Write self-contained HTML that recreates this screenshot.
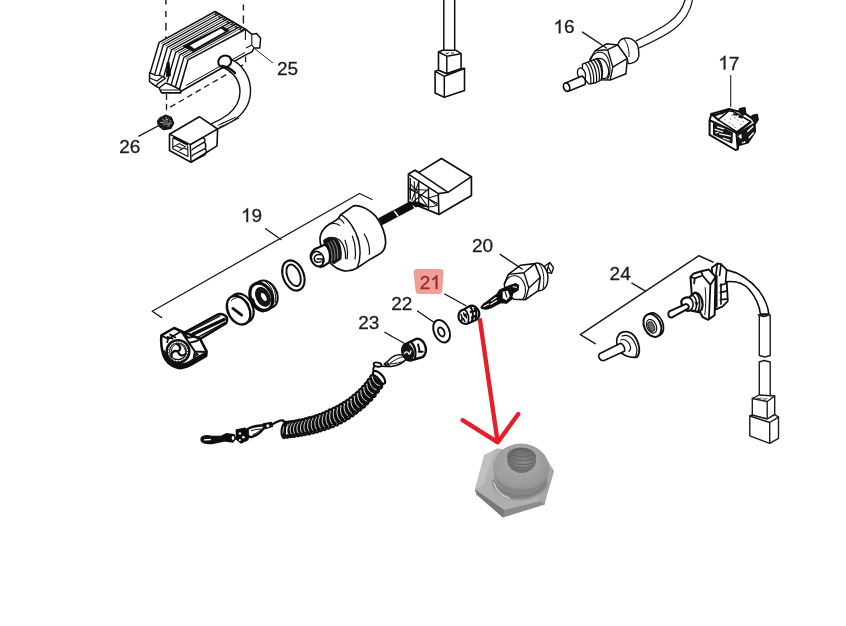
<!DOCTYPE html>
<html>
<head>
<meta charset="utf-8">
<title>Parts diagram</title>
<style>
html,body{margin:0;padding:0;background:#fff;}
body{width:846px;height:626px;overflow:hidden;font-family:"Liberation Sans",sans-serif;}
svg{display:block;}
.l{fill:none;stroke:#1a1a1a;stroke-width:1.4;stroke-linecap:round;stroke-linejoin:round;}
.w{fill:#fff;stroke:#1a1a1a;stroke-width:1.4;stroke-linecap:round;stroke-linejoin:round;}
.t{fill:none;stroke:#1a1a1a;stroke-width:0.8;stroke-linecap:round;stroke-linejoin:round;}
.h{fill:none;stroke:#111;stroke-width:2;stroke-linecap:round;stroke-linejoin:round;}
.k{fill:#111;stroke:#111;stroke-width:1;stroke-linejoin:round;}
.d{fill:none;stroke:#1a1a1a;stroke-width:1.1;stroke-dasharray:5 4;}
text{font-family:"Liberation Sans",sans-serif;font-size:19px;fill:#1c1c1c;stroke:#1c1c1c;stroke-width:0.3;}
</style>
</head>
<body>
<svg width="846" height="626" viewBox="0 0 846 626">
<defs>
<filter id="soft" x="-5%" y="-5%" width="110%" height="110%"><feGaussianBlur stdDeviation="0.35"/></filter>
<filter id="blur1" x="-10%" y="-10%" width="120%" height="120%"><feGaussianBlur stdDeviation="1"/></filter>
</defs>
<rect x="0" y="0" width="846" height="626" fill="#ffffff"/>
<g id="drawing" filter="url(#soft)">

<!-- ITEM25 -->
<path d="M165.900,0 V4.600 M165.900,11 V17 M165.900,22.800 V30.600 M165.900,36.200 V41" fill="none" stroke="#1a1a1a" stroke-width="1.400"/>
<path d="M243.400,4.600 V10.400 M243.400,15.600 V23.400" fill="none" stroke="#1a1a1a" stroke-width="1.400"/>
<path class="d" d="M166.500,94 V109.300 L245.600,63.400 V54" style="stroke-dasharray:5.900 3.900;stroke-width:1.300"/>
<!-- body silhouette -->
<path d="M150.400,71.900 L159.200,42.300 L215.100,11.500 L245.500,29.200 L251.800,34.300 L256.600,33.500 L260.600,38.300 L259.800,47.900 L254.200,47.900 L251.800,51.900 L245.400,55.200 L216.700,71 L181.500,91 L180.700,92.700 L161.600,92.700 L159.200,87.900 L156,86.300 L149.600,81.500 L149.600,72.700 Z" fill="#fff" stroke="#111" stroke-width="1.500" stroke-linejoin="round"/>
<path d="M161.3,43.6 L214.7,14.2" fill="none" stroke="#222" stroke-width="0.800" stroke-linejoin="round"/>
<path d="M154.7,74.6 L163.3,44.8 L219.2,14.0" fill="none" stroke="#111" stroke-width="1.400" stroke-linejoin="round"/>
<path d="M165.4,46.1 L218.8,16.7" fill="none" stroke="#222" stroke-width="0.800" stroke-linejoin="round"/>
<path d="M158.8,77.1 L167.4,47.3 L223.3,16.5" fill="none" stroke="#111" stroke-width="1.400" stroke-linejoin="round"/>
<path d="M169.5,48.6 L222.9,19.2" fill="none" stroke="#222" stroke-width="0.800" stroke-linejoin="round"/>
<path d="M162.9,79.6 L171.5,49.8 L227.4,19.0" fill="none" stroke="#111" stroke-width="1.400" stroke-linejoin="round"/>
<path d="M173.6,51.1 L227.0,21.7" fill="none" stroke="#222" stroke-width="0.800" stroke-linejoin="round"/>
<path d="M167.1,82.2 L175.7,52.4 L231.6,21.6" fill="none" stroke="#111" stroke-width="1.400" stroke-linejoin="round"/>
<path d="M177.7,53.6 L231.1,24.2" fill="none" stroke="#222" stroke-width="0.800" stroke-linejoin="round"/>
<path d="M171.2,84.7 L179.8,54.9 L235.7,24.1" fill="none" stroke="#111" stroke-width="1.400" stroke-linejoin="round"/>
<path d="M181.8,56.1 L235.2,26.7" fill="none" stroke="#222" stroke-width="0.800" stroke-linejoin="round"/>
<path d="M175.3,87.2 L183.9,57.4 L239.8,26.6" fill="none" stroke="#111" stroke-width="1.400" stroke-linejoin="round"/>
<path d="M185.9,58.6 L239.3,29.2" fill="none" stroke="#222" stroke-width="0.800" stroke-linejoin="round"/>
<path d="M179.4,89.7 L188.0,59.9 L245.5,29.2" fill="none" stroke="#111" stroke-width="1.600" stroke-linejoin="round"/>
<path d="M215.1,11.5 L217.2,12.8 L214.7,14.2 L216.7,15.4 L219.2,14.0 L221.3,15.3 L218.8,16.7 L220.8,17.9 L223.3,16.5 L225.4,17.8 L222.9,19.2 L224.9,20.4 L227.4,19.0 L229.5,20.3 L227.0,21.7 L229.1,23.0 L231.6,21.6 L233.6,22.8 L231.1,24.2 L233.2,25.5 L235.7,24.1 L237.7,25.3 L235.2,26.7 L237.3,28.0 L239.8,26.6 L241.8,27.8 L239.3,29.2 L241.4,30.5 L243.9,29.1" fill="none" stroke="#111" stroke-width="1.100" stroke-linejoin="round"/>
<!-- dark wedge -->
<path d="M166.500,63 L169.500,61.500 L171,76 L166,77 Z" fill="#111"/>
<!-- feet -->
<path d="M149.600,72.700 L155.200,75.100 L160.500,75.500 L165.600,78.300 L157.600,83.900 L156,86.300 L149.600,81.500 Z" fill="#fff" stroke="#111" stroke-width="1.400" stroke-linejoin="round"/>
<path d="M149.600,78 L157,81 L162,77" fill="none" stroke="#111" stroke-width="1.100"/>
<path d="M159.200,87.900 L165.600,83 L171,85 L180,89.500 L180.700,92.700 L161.600,92.700 Z" fill="#fff" stroke="#111" stroke-width="1.400" stroke-linejoin="round"/>
<path d="M161,90 L179.500,90" fill="none" stroke="#111" stroke-width="1"/>
<!-- plate -->
<path d="M183.200,46.200 L222.200,26.700 L229.300,30.600 L192.900,51.400 Z" fill="#111" stroke="#111" stroke-width="1"/>
<path d="M189.800,45.600 L221.200,28.600 L225,31.400 L194.600,48.700 Z" fill="#fff"/>
<!-- front face bottom inner line -->
<path d="M186,85.500 L216,68.500 L245,52.500" fill="none" stroke="#111" stroke-width="1"/>
<!-- right end details -->
<path d="M245.500,29.200 L245.400,40 M251.800,34.300 L251.800,45 L254.200,47.900 M251.800,45 L246,48" fill="none" stroke="#111" stroke-width="1.100"/>
<!-- cable -->
<path d="M230,58 C243,64 251,78 250.500,92 C250,104 244,114 232,121.500 C227,124.500 222,127 217.600,129 L211.100,123.800 C216,122 222,119 228,114.500 C236,108 240,100 240,92 C240,80 233,72 222.500,67.500 Z" fill="#fff" stroke="none"/>
<ellipse cx="224.800" cy="61.500" rx="6.700" ry="5.800" transform="rotate(-20 224.800 61.500)" fill="#fff" stroke="#111" stroke-width="2.100"/>
<path d="M222.500,67 C233,72 240,80 240,92 C240,100 236,108 228,114.500 C222,119 216,122 211.100,123.800" fill="none" stroke="#111" stroke-width="1.400"/>
<path d="M222.500,65.800 C227,66.800 231.500,69 235,73" fill="none" stroke="#111" stroke-width="2.400" stroke-linecap="round"/>
<path d="M229.500,58.500 C243,64 251,78 250.500,92 C250,104 244,114 232,121.500 C227,124.500 222,127 217.600,129" fill="none" stroke="#111" stroke-width="1.400"/>
<path d="M217.6,125.4 C224.1,122.5 230.6,119.9 235.8,117.0 M218.9,127.3 C226.7,124.1 233.2,121.2 239.1,118.0 M220.9,124.1 L233.2,118.3" fill="none" stroke="#111" stroke-width="0.900"/>
<!-- leader 25 -->
<path d="M254.500,48.500 L273,63" fill="none" stroke="#333" stroke-width="1"/>
<!-- ITEM26 -->
<path d="M159.8,118.0 L165.6,115.0 L171.5,117.6 L173.7,123.2 L170.8,128.4 L163.7,129.7 L158.5,125.8 L157.5,121.2 Z" fill="#1e1e1e" stroke="#111" stroke-width="1.200" stroke-linejoin="round"/>
<path d="M162.4,119.3 l3,2 l3,-2.500 M163.0,125.1 l3.500,-1.500 l3,2.500 M166.3,117.3 v3.500 M160.4,122.5 h3 M168.2,123.2 h3.500 M165.6,121.2 l2,2 M167.6,126.4 l2,-2 M169.5,119.9 l1.500,1.500" fill="none" stroke="#b5b5b5" stroke-width="1"/>
<ellipse cx="165.6" cy="122.5" rx="2.600" ry="3" fill="#555"/>
<path d="M138.300,136.300 L158,126" fill="none" stroke="#111" stroke-width="1.300"/>
<!-- connector for 25 -->
<path d="M169.5,134.2 L199.4,116.7 L217.6,129.0 L217.0,145.9 L191.0,162.2 L169.5,150.5 Z" fill="#fff" stroke="#111" stroke-width="1.600" stroke-linejoin="round"/>
<path d="M169.5,134.2 L190.3,144.6 L191.0,162.2 M190.3,144.6 L217.6,129.0" fill="none" stroke="#111" stroke-width="1.500" stroke-linejoin="round"/>
<path d="M172.8,137.9 L172.8,148.8 L188.0,156.6 L187.7,145.7" fill="none" stroke="#111" stroke-width="1.100" stroke-linejoin="round"/>
<path d="M173.1,137.1 L188.0,144.6" fill="none" stroke="#111" stroke-width="2.600"/>
<path d="M172.8,147.2 L179.3,143.6 L185.8,147.0 M179.3,150.5 L184.1,147.9 L187.7,149.8 M176.0,145.7 L181.9,148.5" fill="none" stroke="#111" stroke-width="1.100"/>
<path d="M190.3,144.6 L202.7,137.5 C204.6,138.4 205.3,140.1 204.6,141.8 L192.9,148.8 M204.6,141.8 C205.9,144.0 206.2,146.2 205.3,148.3 L192.9,155.0 M205.3,148.3 C206.6,150.5 206.2,153.1 204.9,154.8 L191.4,161.9" fill="none" stroke="#111" stroke-width="1.400" stroke-linejoin="round"/>
<path d="M192.9,148.8 L191.6,150.5 M192.9,155.0 L191.6,156.6" fill="none" stroke="#111" stroke-width="1.200"/>
<!-- ITEMTOPCONN -->
<path d="M443.800,0 V51 M454.700,0 V51" fill="none" stroke="#111" stroke-width="1.500"/>
<path d="M438.500,52 L442.700,50.300 L456.100,50.300 L461.100,53.700 L461.100,68.800 L446.800,73.800 L438.500,70.500 Z" fill="#fff" stroke="#111" stroke-width="1.600" stroke-linejoin="round"/>
<path d="M438.500,52 L446.800,56.200 L461.100,53.700 M446.800,56.200 V73.800" fill="none" stroke="#111" stroke-width="1.500" stroke-linejoin="round"/>
<path d="M445.500,52.700 l1.500,0.900 l1.800,-0.900 M451,52.500 l1.500,0.900 l1.800,-0.900" fill="none" stroke="#111" stroke-width="0.900"/>
<path d="M435.100,71.300 L438.500,70.200 L446.800,73.800 L461.100,68.800 L464.500,68.300 L464.500,90.600 L444.300,97.300 L435.100,93.100 Z" fill="#fff" stroke="#111" stroke-width="1.600" stroke-linejoin="round"/>
<path d="M435.100,71.300 L444.300,76.300 L464.500,68.500 M444.300,76.300 V97.300" fill="none" stroke="#111" stroke-width="1.500" stroke-linejoin="round"/>
<!-- ITEM16 -->
<!-- cable -->
<path class="l" d="M636.200,40.800 C660,29 680,20 685,0" style="stroke-width:1.300"/>
<path class="l" d="M639.400,47.800 C665,36 688,26 692.500,0" style="stroke-width:1.300"/>
<!-- collar -->
<path d="M617.700,44.900 C619,41 621,39 623.400,38.500 C626,37.500 629,38 631.700,39.200 C636,41.500 638,45 638.300,48.500 C639,52 639,54.500 638.800,56.400 C638,59.500 636,61.500 634.300,62.200 C632,63.500 630,63.800 628.100,63.500 L627.300,58.400 Z" fill="#fff" stroke="#111" stroke-width="1.400" stroke-linejoin="round"/>
<path d="M623.400,38.500 C627,42 629.500,49 629,57" fill="none" stroke="#111" stroke-width="1"/>
<!-- hex nut -->
<path d="M589.800,59.600 L595.300,50.700 L606.800,43.700 L617.700,44.900 L627.300,58.400 L626,73.700 L610.200,80.100 L599.800,79.800 Z" fill="#fff" stroke="#111" stroke-width="1.500" stroke-linejoin="round"/>
<path d="M595.300,50.700 L607.700,49.700 L612.800,67.100 L610.200,80.100 M607.700,49.700 L617.700,44.900 M612.800,67.100 L627.300,58.400" fill="none" stroke="#111" stroke-width="1.400" stroke-linejoin="round"/>
<path d="M590.500,60 C592,54 597,51.500 602,52.500 C607,54 610,61 610,69 C610,74 608.500,78 607,79.500" fill="none" stroke="#111" stroke-width="1.100"/>
<!-- shoulder -->
<ellipse cx="602" cy="68.500" rx="6.200" ry="10.500" transform="rotate(-18 602 68.500)" fill="#fff" stroke="#111" stroke-width="1.300"/>
<!-- threads -->
<path d="M582.500,64.100 L597.200,58.400 C602,62 604,72 601,80 L595.900,82.700 L589,84 C584,80 581.500,71 582.500,64.100 Z" fill="#fff" stroke="#111" stroke-width="1.400" stroke-linejoin="round"/>
<path d="M585.300,63.200 C589,67 591.500,76 590.800,83.600 M588,62 C592,66 594.500,75 593.600,83 M590.800,61 C595,65 597.500,74 596.500,82 M593.600,59.800 C598,64 600.500,73 599.200,81 M596,58.800 C600.500,62.500 603,72 601.500,79.500" fill="none" stroke="#111" stroke-width="1.200"/>
<!-- neck ring -->
<ellipse cx="581.500" cy="74" rx="3.800" ry="6.300" transform="rotate(-18 581.500 74)" fill="#fff" stroke="#111" stroke-width="1.300"/>
<!-- tip -->
<path d="M565,83.200 L582,76 C585,78 586,81.500 585,84.500 L568.500,91.200 Z" fill="#fff" stroke="#111" stroke-width="1.600" stroke-linejoin="round"/>
<ellipse cx="566.600" cy="87.100" rx="3" ry="4.300" transform="rotate(-20 566.600 87.100)" fill="#fff" stroke="#111" stroke-width="1.700"/>
<!-- leader -->
<path class="l" d="M582.500,32.100 L606.500,48"/>
<!-- ITEM17 -->
<path d="M730.700,75 V107" fill="none" stroke="#222" stroke-width="1.100"/>
<!-- silhouette -->
<path d="M709.6,120.3 L711.4,113.9 L729.1,108.9 L733.7,110.3 L739.1,111.6 L740.0,108.9 L744.6,108.0 L745.5,113.9 L751.0,117.6 L752.8,115.7 L756.9,114.8 L757.8,119.4 L754.6,124.4 L755.1,131.7 L747.8,142.6 L738.2,145.3 L737.8,149.4 L735.5,150.0 L709.6,134.9 Z" fill="#fff" stroke="#111" stroke-width="2" stroke-linejoin="round"/>
<!-- right side dark -->
<path d="M737.8,133.0 L753.7,123.5 L754.6,131.7 L747.8,142.4 L738.4,145.1 Z" fill="#161616" stroke="#111" stroke-width="1"/>
<path d="M747.3,131.7 L753.2,126.2 M748.7,138.0 L753.7,132.6 M739.1,136.2 L740.9,134.9 L740.9,138.0 Z M742.8,141.7 L742.8,143.5 M744.6,141.2 L744.6,143.0" fill="#fff" stroke="#fff" stroke-width="1.400" stroke-linejoin="round"/>
<!-- top rocker -->
<path d="M718.2,119.8 L729.1,110.7 L733.7,111.6 L751.0,121.7 L736.9,131.8 Z" fill="#fff" stroke="#111" stroke-width="1.600" stroke-linejoin="round"/>
<path d="M711.4,113.9 L713.6,115.7 L727.3,110.7 M713.6,115.7 L718.2,119.8 M712.7,115.3 L722.7,113.0" fill="none" stroke="#111" stroke-width="2.200" stroke-linejoin="round" stroke-linecap="round"/>
<!-- front face -->
<path d="M709.6,120.3 L736.4,132.8 L737.8,149.0 M736.4,132.8 L751.0,121.8" fill="none" stroke="#111" stroke-width="2.100" stroke-linejoin="round"/>
<!-- inner panel -->
<path d="M713.6,123.9 L732.3,133.0 L731.8,143.0 L713.6,134.4 Z" fill="#161616" stroke="#111" stroke-width="1.200" stroke-linejoin="round"/>
<path d="M715.0,129.4 L722.7,131.8 M719.6,133.9 L730.5,136.2 M715.5,133.0 L718.2,132.3 M723.2,138.0 L729.6,140.3 M717.3,126.9 L723.7,128.8" fill="none" stroke="#fff" stroke-width="1.200" stroke-linecap="round"/>
<!-- terminals -->
<path d="M739.1,111.8 L740.0,108.9 L744.6,108.0 L745.5,114.2 L742.8,115.3 L740.9,113.9 Z" fill="#161616" stroke="#111" stroke-width="1.200" stroke-linejoin="round"/>
<path d="M750.8,117.6 L752.8,115.7 L756.9,114.8 L757.8,119.4 L755.1,123.9 L753.2,120.7 Z" fill="#161616" stroke="#111" stroke-width="1.200" stroke-linejoin="round"/>
<path d="M733.8,114.2 l3,0.600 M739.3,116.7 l2.500,0.800" stroke="#111" stroke-width="2" fill="none" stroke-linecap="round"/>
<!-- stipple -->
<path d="M730.0,118.9 l0.800,0.300 M734.6,117.6 l0.800,0.300 M729.1,122.6 l0.800,0.300 M732.8,124.8 l0.800,0.300 M737.3,119.8 l0.800,0.300 M734.6,127.1 l0.800,0.300 M724.6,119.4 l0.800,0.300 M740.0,124.4 l0.800,0.300 M742.8,121.2 l0.800,0.300 M731.8,115.3 l0.800,0.300" stroke="#777" stroke-width="0.900" fill="none" stroke-linecap="round"/>
<!-- ITEM19 -->
<!-- bracket -->
<path class="l" d="M161.700,317.600 L152.200,311.200 L359.500,193.500 L372,199.500" style="stroke-width:1.300"/>
<path class="l" d="M265.6,228.7 L281,239.5"/>
<!-- connector -->
<path d="M408.4,174.1 L414.9,170.2 L418.8,172.4 L441.5,158.5 L471.4,176.7 L471.4,195.5 L438.9,214.4 L408.4,202.0 Z" fill="#fff" stroke="#111" stroke-width="1.700" stroke-linejoin="round"/>
<path d="M408.4,174.1 L438.3,193.6 L438.9,214.4 M438.3,193.6 L448.0,192.3 L471.4,176.7 M414.9,170.2 L448.0,192.3 M418.8,172.4 L420.7,173.8" fill="none" stroke="#111" stroke-width="1.600" stroke-linejoin="round"/>
<path d="M418.8,180.9 L418.8,204.6 M428.5,187.5 L428.5,209.2 M408.4,188.4 L438.3,204.0 M410.3,178.0 L410.3,199.4" fill="none" stroke="#111" stroke-width="1.400"/>
<path d="M410.3,183.8 L418.8,192.9 M418.8,181.9 L411.6,200.7 M414.2,181.2 L415.5,202.0 M428.5,189.0 L412.9,202.0 M418.8,194.2 L428.5,207.9 M428.5,198.1 L438.3,194.9 M428.5,198.8 L437.6,205.9 M419.4,205.3 C424.6,207.2 432.4,207.2 437.6,205.3 M410.3,189.0 L427.2,190.3" fill="none" stroke="#111" stroke-width="1.100"/>
<!-- wires -->
<path d="M380.1,221.8 L412.3,204.6" stroke="#111" stroke-width="8" fill="none"/>
<path d="M409.0,202.0 L418.8,201.4 L427.2,205.9 L415.5,207.2 Z" fill="#111"/>
<path d="M394.1,211.1 C396.0,212.4 396.7,214.4 398.0,216.3" stroke="#fff" stroke-width="1.500" fill="none"/>
<!-- switch body -->
<path d="M320.4,235.8 C321.7,230.3 325.1,226.9 329.2,224.2 C332.6,222.2 336.0,220.8 338.7,218.1 C339.4,216.7 340.1,215.4 340.8,214.7 L353.0,206.1 C358.4,204.5 367.9,207.9 376.1,216.7 C381.5,223.5 385.9,234.4 385.6,242.6 C385.3,248.7 382.9,252.1 379.5,254.1 L370.7,258.9 L357.1,268.0 C353.0,270.4 347.6,271.8 342.1,270.4 C334.0,268.4 327.2,260.2 323.1,252.1 C320.4,245.3 319.4,239.8 320.4,235.8 Z" fill="#fff" stroke="#111" stroke-width="1.700" stroke-linejoin="round"/>
<path d="M340.8,214.7 C347.6,218.1 355.7,229.0 358.7,241.2 C360.5,249.3 360.5,260.2 357.1,268.0" fill="none" stroke="#111" stroke-width="1.500"/>
<path d="M329.2,224.2 C332.6,222.9 337.4,223.5 340.1,225.6 M338.7,218.1 C340.8,219.5 342.8,221.5 344.2,223.5" fill="none" stroke="#111" stroke-width="1.200"/>
<path d="M352.3,235.8 C355.0,242.6 356.0,252.1 355.0,259.5 M363.9,233.7 C367.9,239.8 370.0,248.0 369.3,254.8 M344.8,239.8 C347.6,246.6 348.2,253.4 346.9,259.5" fill="none" stroke="#111" stroke-width="1.200"/>
<!-- nut ring & threaded neck (dark) -->
<path d="M323.8,240.5 C326.5,237.8 331.2,236.4 334.6,237.8 C339.4,240.5 342.1,249.3 340.8,258.9 L334.0,263.6 C329.2,261.6 324.5,252.1 323.8,240.5 Z" fill="#161616" stroke="#111" stroke-width="1.200"/>
<path d="M330.6,241.2 C334.0,246.0 335.6,253.4 334.6,260.2 M327.9,242.6 C331.2,247.3 332.6,254.8 331.7,261.3 M333.3,240.1 C336.7,244.6 338.3,252.1 337.6,258.6" fill="none" stroke="#bbb" stroke-width="0.700"/>
<path d="M334.6,237.8 C340.8,238.5 346.2,246.6 345.5,258.9" fill="none" stroke="#111" stroke-width="1.300"/>
<!-- nose -->
<path d="M310.9,254.8 C312.2,250.7 315.6,248.0 319.0,247.3 L325.1,244.6 C329.2,247.3 331.2,254.8 329.2,262.3 L323.1,266.3 C317.7,268.4 309.5,262.9 310.9,254.8 Z" fill="#fff" stroke="#111" stroke-width="2.200" stroke-linejoin="round"/>
<ellipse cx="317.600" cy="258.800" rx="6" ry="7.600" transform="rotate(-25 317.600 258.800)" fill="#fff" stroke="#111" stroke-width="1.700"/>
<path d="M320.4,254.8 C317.0,253.4 313.6,256.1 314.3,259.5 C314.9,262.3 318.3,262.9 320.4,261.6 M317.0,258.9 L322.4,258.9 L322.4,262.9" fill="none" stroke="#111" stroke-width="1.500" stroke-linecap="round"/>
<!-- o-ring -->
<ellipse cx="293.400" cy="275.500" rx="10.300" ry="15.700" transform="rotate(-22 293.400 275.500)" fill="#fff" stroke="#111" stroke-width="2.100"/>
<ellipse cx="293.600" cy="275.300" rx="6.300" ry="11.300" transform="rotate(-22 293.600 275.300)" fill="#fff" stroke="#111" stroke-width="1.900"/>
<!-- bezel nut -->
<ellipse cx="266" cy="294.300" rx="10.800" ry="14.600" transform="rotate(-28 266 294.300)" fill="#fff" stroke="#111" stroke-width="2"/>
<path d="M268,282 C274,286 277,294 275,303 M265,281.500 C271,285 274.500,293 273,302" fill="none" stroke="#111" stroke-width="1"/>
<ellipse cx="261.300" cy="296.800" rx="10.600" ry="14.300" transform="rotate(-28 261.300 296.800)" fill="#fff" stroke="#111" stroke-width="3.200"/>
<ellipse cx="263" cy="296.800" rx="6.600" ry="10" transform="rotate(-28 263 296.800)" fill="#161616" stroke="#111" stroke-width="1"/>
<ellipse cx="263.800" cy="297" rx="2.700" ry="4.900" transform="rotate(-28 263.800 297)" fill="#fff" stroke="#111" stroke-width="1"/>
<path d="M252.500,300 C254,306 258,310 263,311" fill="none" stroke="#111" stroke-width="3.200" stroke-linecap="round"/>
<!-- cap -->
<ellipse cx="241.800" cy="308" rx="10.800" ry="15.300" transform="rotate(-28 241.800 308)" fill="#fff" stroke="#111" stroke-width="2.200"/>
<ellipse cx="238.600" cy="310.200" rx="10.600" ry="15.200" transform="rotate(-28 238.600 310.200)" fill="#fff" stroke="#111" stroke-width="2.400"/>
<path d="M231,301 C236,295 245,297 249,305" fill="none" stroke="#111" stroke-width="1"/>
<path d="M232.900,308.400 L241.700,315.200" stroke="#111" stroke-width="2.800" stroke-linecap="round" fill="none"/>
<!-- key -->
<path d="M184.1,332.8 L217.6,314.6 C221.5,313.0 226.1,315.0 227.0,318.2 C227.4,320.8 226.7,322.1 226.1,323.1 L200.1,339.0 Z" fill="#fff" stroke="#111" stroke-width="2.600" stroke-linejoin="round"/>
<path d="M192.9,334.1 L224.1,319.5" stroke="#111" stroke-width="3.400" fill="none" stroke-linecap="round"/>
<path d="M189.0,331.9 L220.2,315.9 M198.1,337.1 L225.4,322.4" stroke="#111" stroke-width="1.500" fill="none"/>
<!-- head -->
<path d="M161.4,335.4 L174.1,328.0 L181.2,331.2 L184.1,332.5 L189.0,334.1 L200.1,339.0 L206.6,351.4 L206.2,355.9 L190.3,365.0 C186.4,367.6 181.2,368.7 176.7,367.6 C170.8,365.7 165.6,361.1 163.7,355.9 C162.0,350.7 160.7,342.9 161.4,335.4 Z" fill="#fff" stroke="#111" stroke-width="2.600" stroke-linejoin="round"/>
<!-- shadow underside -->
<path d="M163.0,352.0 C165.0,361.1 172.1,367.0 179.3,367.9 C184.5,368.3 189.0,365.7 192.3,363.7 L206.2,355.9 L206.2,352.0 L192.9,359.2 C189.0,361.8 183.8,364.4 179.3,363.7 C172.1,362.4 166.3,357.2 164.3,350.7 Z" fill="#111" stroke="#111" stroke-width="1.200" stroke-linejoin="round"/>
<!-- top bands -->
<path d="M161.4,335.4 L168.2,339.0 L181.2,331.2 M168.2,339.0 L166.9,342.9 M169.5,334.1 L176.0,337.7 M166.9,336.7 L173.4,339.0" fill="none" stroke="#111" stroke-width="1.800" stroke-linejoin="round"/>
<path d="M181.2,331.2 L189.0,342.9 L194.9,351.4 L206.2,352.0 M189.0,342.9 L196.8,341.0 L200.1,339.0 M184.1,332.5 L187.7,337.7 L194.9,336.4 M194.9,351.4 L193.6,358.5" fill="none" stroke="#111" stroke-width="2" stroke-linejoin="round"/>
<path d="M195.5,352.0 L194.9,357.2 L199.4,354.6 Z" fill="#111"/>
<!-- emblem -->
<circle cx="178" cy="351.400" r="11.300" fill="#fff" stroke="#111" stroke-width="2.400"/>
<circle cx="178" cy="351.400" r="8.400" fill="#fff" stroke="#111" stroke-width="1.100"/>
<circle cx="178" cy="351.400" r="9.800" fill="none" stroke="#111" stroke-width="1.300" stroke-dasharray="0.700 2.200"/>
<path d="M177,344 C181,346 181,350 178,351.500 M185.500,354 C182,357 179,355 178,351.500 M171.500,357 C171,352 174,350 178,351.500" stroke="#111" stroke-width="2.300" fill="none" stroke-linecap="round"/>
<path d="M177,344 C173,345 171,349 171.500,353 M185.500,354 C186,349 183,345 179,343.800 M171.500,357 C175,360.500 181,360 184.500,356.500" stroke="#111" stroke-width="1" fill="none"/>
<!-- ITEM20 -->
<!-- terminals -->
<path d="M544.4,266.3 L549.8,262.5 L553.5,267.7 L551.6,273.4 L547.1,272.4 Z" fill="#fff" stroke="#111" stroke-width="1.400" stroke-linejoin="round"/>
<path d="M547.1,272.4 L548.0,266.3 L551.6,273.4 M548.0,266.3 L549.8,262.5" fill="none" stroke="#111" stroke-width="1.200" stroke-linejoin="round"/>
<!-- collar -->
<path d="M534.9,263.6 C536.9,262.5 539.6,262.9 542.3,264.9 C546.4,268.3 548.5,274.4 547.8,280.6 C547.2,285.3 545.1,288.7 542.3,290.1 L538.3,291.0 Z" fill="#fff" stroke="#111" stroke-width="1.400" stroke-linejoin="round"/>
<path d="M538.3,263.3 C543.0,267.0 545.1,277.2 543.0,289.4" fill="none" stroke="#111" stroke-width="1"/>
<!-- hex body -->
<path d="M504.3,283.9 L508.4,274.4 L520.6,265.2 L534.9,263.6 L540.3,277.2 L538.3,290.7 L525.4,299.6 L513.8,299.2 C508.4,296.2 504.0,290.1 504.3,283.9 Z" fill="#fff" stroke="#111" stroke-width="1.600" stroke-linejoin="round"/>
<path d="M508.4,274.4 L524.0,272.8 L528.8,288.0 L525.4,299.6 M524.0,272.8 L534.9,263.6 M528.8,288.0 L540.3,277.2" fill="none" stroke="#111" stroke-width="1.400" stroke-linejoin="round"/>
<path d="M505.0,283.3 C506.4,277.8 511.1,275.1 515.9,275.8 C522.0,277.2 526.0,283.9 525.4,292.1 C525.1,295.5 524.0,297.8 522.7,299.2" fill="none" stroke="#111" stroke-width="1.100"/>
<!-- plunger -->
<path d="M481.0,307.3 L483.3,304.3 L487.3,301.6 L497.5,293.7 L499.6,290.1 L504.3,288.0 L509.8,285.6 L515.9,283.7 L518.6,285.6 L517.9,290.1 L512.7,293.2 L511.4,299.2 L506.4,303.2 L500.5,302.7 L492.1,307.3 L486.4,309.2 L482.3,308.7 Z" fill="#111" stroke="#111" stroke-width="1.300" stroke-linejoin="round"/>
<path d="M502.7,291.8 L507.7,290.7 L509.8,296.2 L506.4,300.2 L502.7,298.2 Z" fill="#fff" stroke="none"/>
<path d="M505.0,291.4 L507.0,297.5" stroke="#111" stroke-width="1.200" fill="none"/>
<path d="M483.9,306.4 L488.7,304.0 M513.1,286.7 L516.5,287.2 M490.7,304.3 L496.8,300.5 M491.4,300.9 L496.2,297.5" stroke="#fff" stroke-width="1.100" fill="none" stroke-linecap="round"/>
<path d="M499.750,254.100 L522.800,269.500" fill="none" stroke="#111" stroke-width="1.300"/>
<!-- ITEM21 -->
<path d="M444.300,293.800 L466.500,306" fill="none" stroke="#111" stroke-width="1.300"/>
<g transform="translate(469,314.700) scale(0.930) translate(-469.400,-314.500)">
<path d="M458.4,313.8 C459.5,310.4 462.2,309.1 464.3,308.7 L470.4,305.0 C473.1,304.3 476.5,305.7 478.5,308.4 C480.6,311.1 481.0,315.2 478.8,319.0 L468.3,324.0 C464.9,325.0 460.9,323.3 458.8,319.9 C457.9,317.9 457.9,315.9 458.4,313.8 Z" fill="#fff" stroke="#111" stroke-width="2.400" stroke-linejoin="round"/>
<path d="M464.3,308.7 C468.3,311.1 470.4,317.9 468.3,324.0" fill="none" stroke="#111" stroke-width="1.800"/>
<path d="M470.4,305.4 C473.8,309.8 474.4,316.5 472.4,321.7 M475.1,306.8 C477.2,309.8 477.8,315.2 476.5,319.5" fill="none" stroke="#111" stroke-width="2.200"/>
<path d="M470.4,311.8 L477.8,309.8 M471.7,317.9 L477.8,315.2" fill="none" stroke="#111" stroke-width="2.400"/>
<path d="M460.9,314.5 C462.0,316.5 462.2,319.3 461.5,321.3 M463.6,312.7 L464.7,315.9 L466.0,313.8 L466.6,317.9 M463.3,318.6 L464.9,321.7" fill="none" stroke="#111" stroke-width="1.700" stroke-linejoin="round" stroke-linecap="round"/>
</g>
<!-- ITEM22 -->
<path d="M417.100,310.800 L433.800,322.300" fill="none" stroke="#111" stroke-width="1.300"/>
<ellipse cx="441.600" cy="331.200" rx="7.600" ry="11.800" transform="rotate(-24 441.600 331.200)" fill="#fff" stroke="#111" stroke-width="2"/>
<ellipse cx="441.300" cy="331.900" rx="2.900" ry="4.800" transform="rotate(-24 441.300 331.900)" fill="#fff" stroke="#111" stroke-width="1.900"/>
<!-- ITEM23 -->
<path d="M384.400,332.100 L405.500,344" fill="none" stroke="#111" stroke-width="1.200"/>
<!-- cap -->
<g transform="translate(414.100,349.700) scale(0.940) translate(-414.600,-348.300)">
<path d="M402.0,350.4 C402.0,345.6 404.0,342.9 406.0,342.2 L416.9,336.8 C421.0,336.1 425.1,339.5 426.7,344.9 C427.8,349.7 426.7,353.8 423.7,356.1 L411.5,359.6 C407.4,360.6 402.7,356.5 402.0,350.4 Z" fill="#fff" stroke="#111" stroke-width="2.600" stroke-linejoin="round"/>
<ellipse cx="407.800" cy="350.700" rx="5.800" ry="8.800" transform="rotate(-18 407.800 350.700)" fill="#161616" stroke="#111" stroke-width="1.500"/>
<path d="M404.4,352.4 C406.0,349.7 408.1,350.4 408.8,352.4 C409.4,354.4 410.8,351.7 411.2,349.7" fill="none" stroke="#fff" stroke-width="1.400" stroke-linecap="round"/>
<path d="M411.5,340.2 C414.9,343.6 416.9,350.4 415.6,357.8" fill="none" stroke="#111" stroke-width="2.400"/>
<path d="M418.9,342.9 L420.3,349.0 M419.6,350.4 L423.7,350.4" fill="none" stroke="#111" stroke-width="2.200" stroke-linecap="round"/>
</g>
<!-- cord loop -->
<path d="M402.7,355.1 C397.9,353.8 393.1,355.8 389.8,359.2 C387.7,361.2 385.7,363.3 384.3,363.9 M406.7,358.8 C403.3,363.3 397.9,365.6 391.1,366.4 C385.7,366.9 380.2,366.4 376.2,365.0" fill="none" stroke="#111" stroke-width="1.500" stroke-linecap="round"/>
<path d="M404.0,356.5 C399.3,357.2 393.8,360.6 389.8,363.3 M404.7,360.6 C400.6,362.6 395.2,363.9 389.8,363.9" fill="none" stroke="#111" stroke-width="1"/>
<ellipse cx="377.5" cy="364.6" rx="4" ry="2" transform="rotate(10 377.5 364.6)" fill="#fff" stroke="#111" stroke-width="1.800"/>
<path d="M384.3,363.7 l3,2.500 M387.0,362.6 l2.500,3" stroke="#111" stroke-width="2" fill="none"/>
<path d="M374.8,365.6 C373.5,367.3 372.8,369.4 373.5,371.4" fill="none" stroke="#111" stroke-width="1.800"/>
<!-- coil -->
<path d="M288.5,429.8 C313,427 354.2,417.2 378,379.5" fill="none" stroke="#141414" stroke-width="13.500" stroke-linecap="butt"/>
<ellipse cx="285.5" cy="429.8" rx="3.800" ry="8.1" transform="rotate(10.2 285.5 429.8)" fill="none" stroke="#111" stroke-width="2.200"/>
<ellipse cx="288.6" cy="429.5" rx="3.800" ry="8.2" transform="rotate(9.3 288.6 429.5)" fill="none" stroke="#111" stroke-width="2.200"/>
<ellipse cx="291.8" cy="429.1" rx="3.800" ry="8.2" transform="rotate(8.3 291.8 429.1)" fill="none" stroke="#111" stroke-width="2.200"/>
<ellipse cx="295.1" cy="428.6" rx="3.800" ry="8.3" transform="rotate(7.3 295.1 428.6)" fill="none" stroke="#111" stroke-width="2.200"/>
<ellipse cx="298.5" cy="428.0" rx="3.800" ry="8.4" transform="rotate(6.1 298.5 428.0)" fill="none" stroke="#111" stroke-width="2.200"/>
<ellipse cx="302.0" cy="427.4" rx="3.800" ry="8.4" transform="rotate(4.9 302.0 427.4)" fill="none" stroke="#111" stroke-width="2.200"/>
<ellipse cx="305.5" cy="426.6" rx="3.800" ry="8.5" transform="rotate(3.6 305.5 426.6)" fill="none" stroke="#111" stroke-width="2.200"/>
<ellipse cx="309.1" cy="425.8" rx="3.800" ry="8.6" transform="rotate(2.3 309.1 425.8)" fill="none" stroke="#111" stroke-width="2.200"/>
<ellipse cx="312.8" cy="424.9" rx="3.800" ry="8.6" transform="rotate(0.8 312.8 424.9)" fill="none" stroke="#111" stroke-width="2.200"/>
<ellipse cx="316.5" cy="423.8" rx="3.800" ry="8.7" transform="rotate(-0.7 316.5 423.8)" fill="none" stroke="#111" stroke-width="2.200"/>
<ellipse cx="320.2" cy="422.6" rx="3.800" ry="8.8" transform="rotate(-2.4 320.2 422.6)" fill="none" stroke="#111" stroke-width="2.200"/>
<ellipse cx="323.9" cy="421.3" rx="3.800" ry="8.8" transform="rotate(-4.1 323.9 421.3)" fill="none" stroke="#111" stroke-width="2.200"/>
<ellipse cx="327.6" cy="419.9" rx="3.800" ry="8.9" transform="rotate(-5.9 327.6 419.9)" fill="none" stroke="#111" stroke-width="2.200"/>
<ellipse cx="331.4" cy="418.3" rx="3.800" ry="9.0" transform="rotate(-7.8 331.4 418.3)" fill="none" stroke="#111" stroke-width="2.200"/>
<ellipse cx="335.1" cy="416.6" rx="3.800" ry="9.0" transform="rotate(-9.8 335.1 416.6)" fill="none" stroke="#111" stroke-width="2.200"/>
<ellipse cx="338.9" cy="414.7" rx="3.800" ry="8.9" transform="rotate(-11.8 338.9 414.7)" fill="none" stroke="#111" stroke-width="2.200"/>
<ellipse cx="342.6" cy="412.7" rx="3.800" ry="8.8" transform="rotate(-14.0 342.6 412.7)" fill="none" stroke="#111" stroke-width="2.200"/>
<ellipse cx="346.2" cy="410.5" rx="3.800" ry="8.8" transform="rotate(-16.2 346.2 410.5)" fill="none" stroke="#111" stroke-width="2.200"/>
<ellipse cx="349.8" cy="408.1" rx="3.800" ry="8.7" transform="rotate(-18.6 349.8 408.1)" fill="none" stroke="#111" stroke-width="2.200"/>
<ellipse cx="353.4" cy="405.5" rx="3.800" ry="8.6" transform="rotate(-21.0 353.4 405.5)" fill="none" stroke="#111" stroke-width="2.200"/>
<ellipse cx="356.9" cy="402.7" rx="3.800" ry="8.6" transform="rotate(-23.4 356.9 402.7)" fill="none" stroke="#111" stroke-width="2.200"/>
<ellipse cx="360.4" cy="399.8" rx="3.800" ry="8.5" transform="rotate(-26.0 360.4 399.8)" fill="none" stroke="#111" stroke-width="2.200"/>
<ellipse cx="363.7" cy="396.6" rx="3.800" ry="8.4" transform="rotate(-28.6 363.7 396.6)" fill="none" stroke="#111" stroke-width="2.200"/>
<ellipse cx="367.0" cy="393.3" rx="3.800" ry="8.4" transform="rotate(-31.2 367.0 393.3)" fill="none" stroke="#111" stroke-width="2.200"/>
<ellipse cx="370.2" cy="389.7" rx="3.800" ry="8.3" transform="rotate(-33.9 370.2 389.7)" fill="none" stroke="#111" stroke-width="2.200"/>
<ellipse cx="373.2" cy="385.8" rx="3.800" ry="8.2" transform="rotate(-36.6 373.2 385.8)" fill="none" stroke="#111" stroke-width="2.200"/>
<ellipse cx="376.2" cy="381.8" rx="3.800" ry="8.2" transform="rotate(-39.3 376.2 381.8)" fill="none" stroke="#111" stroke-width="2.200"/>
<ellipse cx="379.0" cy="377.5" rx="3.800" ry="8.1" transform="rotate(-42.0 379.0 377.5)" fill="none" stroke="#111" stroke-width="2.200"/>
<path d="M-1.200,-5.7 C-3.800,-3.3 -3.800,2.9 -1.500,5.2" transform="translate(290.2 429.3) rotate(9.3)" fill="none" stroke="#fff" stroke-width="0.800" stroke-linecap="round"/>
<path d="M-1.200,-5.7 C-3.800,-3.3 -3.800,2.9 -1.500,5.2" transform="translate(293.4 428.8) rotate(8.3)" fill="none" stroke="#fff" stroke-width="0.800" stroke-linecap="round"/>
<path d="M-1.200,-5.8 C-3.800,-3.3 -3.800,2.9 -1.500,5.3" transform="translate(296.7 428.3) rotate(7.3)" fill="none" stroke="#fff" stroke-width="0.800" stroke-linecap="round"/>
<path d="M-1.200,-5.9 C-3.800,-3.3 -3.800,2.9 -1.500,5.4" transform="translate(300.1 427.7) rotate(6.1)" fill="none" stroke="#fff" stroke-width="0.800" stroke-linecap="round"/>
<path d="M-1.200,-5.9 C-3.800,-3.4 -3.800,3.0 -1.500,5.4" transform="translate(303.6 427.1) rotate(4.9)" fill="none" stroke="#fff" stroke-width="0.800" stroke-linecap="round"/>
<path d="M-1.200,-6.0 C-3.800,-3.4 -3.800,3.0 -1.500,5.5" transform="translate(307.1 426.3) rotate(3.6)" fill="none" stroke="#fff" stroke-width="0.800" stroke-linecap="round"/>
<path d="M-1.200,-6.1 C-3.800,-3.4 -3.800,3.0 -1.500,5.6" transform="translate(310.7 425.4) rotate(2.3)" fill="none" stroke="#fff" stroke-width="0.800" stroke-linecap="round"/>
<path d="M-1.200,-6.1 C-3.800,-3.5 -3.800,3.0 -1.500,5.6" transform="translate(314.3 424.5) rotate(0.8)" fill="none" stroke="#fff" stroke-width="0.800" stroke-linecap="round"/>
<path d="M-1.200,-6.2 C-3.800,-3.5 -3.800,3.0 -1.500,5.7" transform="translate(318.0 423.4) rotate(-0.7)" fill="none" stroke="#fff" stroke-width="0.800" stroke-linecap="round"/>
<path d="M-1.200,-6.3 C-3.800,-3.5 -3.800,3.1 -1.500,5.8" transform="translate(321.7 422.1) rotate(-2.4)" fill="none" stroke="#fff" stroke-width="0.800" stroke-linecap="round"/>
<path d="M-1.200,-6.3 C-3.800,-3.5 -3.800,3.1 -1.500,5.8" transform="translate(325.4 420.8) rotate(-4.1)" fill="none" stroke="#fff" stroke-width="0.800" stroke-linecap="round"/>
<path d="M-1.200,-6.4 C-3.800,-3.6 -3.800,3.1 -1.500,5.9" transform="translate(329.1 419.3) rotate(-5.9)" fill="none" stroke="#fff" stroke-width="0.800" stroke-linecap="round"/>
<path d="M-1.200,-6.5 C-3.800,-3.6 -3.800,3.1 -1.500,6.0" transform="translate(332.9 417.7) rotate(-7.8)" fill="none" stroke="#fff" stroke-width="0.800" stroke-linecap="round"/>
<path d="M-1.200,-6.5 C-3.800,-3.6 -3.800,3.1 -1.500,6.0" transform="translate(336.6 415.9) rotate(-9.8)" fill="none" stroke="#fff" stroke-width="0.800" stroke-linecap="round"/>
<path d="M-1.200,-6.4 C-3.800,-3.6 -3.800,3.1 -1.500,5.9" transform="translate(340.3 414.0) rotate(-11.8)" fill="none" stroke="#fff" stroke-width="0.800" stroke-linecap="round"/>
<path d="M-1.200,-6.3 C-3.800,-3.5 -3.800,3.1 -1.500,5.8" transform="translate(343.9 411.9) rotate(-14.0)" fill="none" stroke="#fff" stroke-width="0.800" stroke-linecap="round"/>
<path d="M-1.200,-6.3 C-3.800,-3.5 -3.800,3.1 -1.500,5.8" transform="translate(347.6 409.6) rotate(-16.2)" fill="none" stroke="#fff" stroke-width="0.800" stroke-linecap="round"/>
<path d="M-1.200,-6.2 C-3.800,-3.5 -3.800,3.0 -1.500,5.7" transform="translate(351.2 407.2) rotate(-18.6)" fill="none" stroke="#fff" stroke-width="0.800" stroke-linecap="round"/>
<path d="M-1.200,-6.1 C-3.800,-3.5 -3.800,3.0 -1.500,5.6" transform="translate(354.7 404.5) rotate(-21.0)" fill="none" stroke="#fff" stroke-width="0.800" stroke-linecap="round"/>
<path d="M-1.200,-6.1 C-3.800,-3.4 -3.800,3.0 -1.500,5.6" transform="translate(358.2 401.7) rotate(-23.4)" fill="none" stroke="#fff" stroke-width="0.800" stroke-linecap="round"/>
<path d="M-1.200,-6.0 C-3.800,-3.4 -3.800,3.0 -1.500,5.5" transform="translate(361.6 398.7) rotate(-26.0)" fill="none" stroke="#fff" stroke-width="0.800" stroke-linecap="round"/>
<path d="M-1.200,-5.9 C-3.800,-3.4 -3.800,3.0 -1.500,5.4" transform="translate(364.9 395.5) rotate(-28.6)" fill="none" stroke="#fff" stroke-width="0.800" stroke-linecap="round"/>
<path d="M-1.200,-5.9 C-3.800,-3.3 -3.800,2.9 -1.500,5.4" transform="translate(368.1 392.1) rotate(-31.2)" fill="none" stroke="#fff" stroke-width="0.800" stroke-linecap="round"/>
<path d="M-1.200,-5.8 C-3.800,-3.3 -3.800,2.9 -1.500,5.3" transform="translate(371.2 388.4) rotate(-33.9)" fill="none" stroke="#fff" stroke-width="0.800" stroke-linecap="round"/>
<path d="M-1.200,-5.7 C-3.800,-3.3 -3.800,2.9 -1.500,5.2" transform="translate(374.2 384.6) rotate(-36.6)" fill="none" stroke="#fff" stroke-width="0.800" stroke-linecap="round"/>
<path d="M-1.200,-5.7 C-3.800,-3.3 -3.800,2.9 -1.500,5.2" transform="translate(377.1 380.5) rotate(-39.3)" fill="none" stroke="#fff" stroke-width="0.800" stroke-linecap="round"/>
<!-- clip -->
<path d="M201.2,438.6 C202.2,436.0 206.7,435.3 211.9,436.4 L221.0,436.4 L226.2,433.8 L234.0,434.7 L235.6,438.6 L232.7,442.1 L224.9,440.8 L214.5,442.9 C208.0,444.2 200.2,443.4 201.2,438.6 Z" fill="#111" stroke="#111" stroke-width="1.500" stroke-linejoin="round"/>
<path d="M204.4,439.9 L210.3,439.5" stroke="#fff" stroke-width="1.400" stroke-linecap="round" fill="none"/>
<ellipse cx="233.0" cy="437.9" rx="1.300" ry="2" fill="#fff"/>
<path d="M236.4,430.1 L245.1,428.2 L249.6,432.7 L247.7,439.9 L241.2,442.9 L236.6,439.2 Z" fill="#111" stroke="#111" stroke-width="1.500" stroke-linejoin="round"/>
<circle cx="239.9" cy="433.4" r="1.200" fill="#fff"/><circle cx="243.4" cy="437.3" r="1.300" fill="#fff"/><circle cx="239.9" cy="439.9" r="1" fill="#fff"/>
<path d="M247.7,429.1 C252.2,426.2 260.0,425.2 265.9,425.2 C262.6,430.8 257.4,435.3 252.2,436.9 C250.3,437.3 248.3,436.6 247.7,434.7 Z" fill="#fff" stroke="#111" stroke-width="2.400" stroke-linejoin="round"/>
<path d="M250.9,430.8 C254.8,429.5 258.7,429.1 261.3,429.1 M252.9,434.7 C256.1,433.4 259.4,431.4 262.0,429.1" fill="none" stroke="#111" stroke-width="1"/>
<path d="M263.3,423.9 L271.1,422.6 L272.4,426.2 L265.2,428.6 Z" fill="#111" stroke="#111" stroke-width="1.500" stroke-linejoin="round"/>
<circle cx="267.8" cy="425.8" r="1.500" fill="#fff"/>
<path d="M271.7,424.6 C274.3,423.0 276.9,421.7 279.5,420.7 C282.1,420.0 284.7,420.4 285.0,423.0 C285.4,427.5 284.7,434.0 283.4,437.9" fill="none" stroke="#111" stroke-width="2.200" stroke-linecap="round"/>
<!-- ITEM24 -->
<!-- bracket -->
<path class="l" d="M595.200,343.600 L580.300,334.600 L699,255.700 L713.200,262.100" style="stroke-width:1.500"/>
<path class="l" d="M631.900,283.200 L645,290.800" style="stroke-width:1.500"/>
<!-- boot with lever -->
<g transform="translate(-1.500,0.300)">
<path d="M621,333.500 C626,329.500 633,331 637.500,338 C641,344 642,352 639,356.500 C633,358 624,356 620,349 C617,343 618,337 621,333.500 Z" fill="#fff" stroke="#111" stroke-width="1.800" stroke-linejoin="round"/>
<path d="M623,336 C628,333.500 633,336 636,342 C638.500,347 639,353 637,356.500" fill="none" stroke="#111" stroke-width="1.200"/>
<path d="M622,340 C625,338 629,340 631,344 C632.500,347 632,350 630,351.500" fill="none" stroke="#111" stroke-width="1.200"/>
<path d="M601,353.500 L622,343 C625,344 627,348 626,351 L605,360.500 C601,360.500 599,356 601,353.500 Z" fill="#fff" stroke="#111" stroke-width="1.600" stroke-linejoin="round"/>
</g>
<!-- washer -->
<ellipse cx="654.600" cy="324.300" rx="8.200" ry="12" transform="rotate(-25 654.600 324.300)" fill="#fff" stroke="#111" stroke-width="1.700"/>
<ellipse cx="652.400" cy="325.500" rx="8.200" ry="12" transform="rotate(-25 652.400 325.500)" fill="#fff" stroke="#111" stroke-width="2"/>
<ellipse cx="651.600" cy="326.300" rx="4.600" ry="7.200" transform="rotate(-25 651.600 326.300)" fill="#fff" stroke="#111" stroke-width="1.200"/>
<ellipse cx="651.300" cy="326.600" rx="2.900" ry="5" transform="rotate(-25 651.300 326.600)" fill="#6a6a6a" stroke="#222" stroke-width="1"/>
<!-- terminals -->
<path d="M711.8,267.7 L717.4,263.5 L721.0,264.2 L726.7,269.9 L726.7,281.9 L727.8,301.1 L722.4,306.7 L715.3,309.6 Z" fill="#fff" stroke="#111" stroke-width="1.800" stroke-linejoin="round"/>
<path d="M717.4,263.5 L716.0,274.1 M721.0,264.2 L719.6,275.5 M716.7,275.5 L716.7,306.7 M720.3,285.5 L726.4,283.3 M720.3,292.6 L727.0,290.9 M720.3,299.9 L727.5,298.9 M721.0,284.0 L721.0,303.9" fill="none" stroke="#111" stroke-width="1.700" stroke-linecap="round"/>
<!-- cable -->
<path d="M726.7,269.9 C739.4,272.7 750.8,280.5 759.3,291.1 C765.0,298.9 768.1,306.7 768.9,314.1 L760.4,314.1 C759.6,306.7 756.5,298.2 749.4,289.7 C743.7,283.3 735.2,280.5 725.5,281.9 Z" fill="#fff" stroke="#111" stroke-width="1.600" stroke-linejoin="round"/>
<!-- switch body -->
<path d="M690.5,277.0 L693.3,273.8 L701.1,271.3 L708.9,269.6 L715.6,276.7 L714.6,315.2 L708.2,319.8 L702.6,317.0 L691.9,296.8 Z" fill="#fff" stroke="#111" stroke-width="2" stroke-linejoin="round"/>
<path d="M690.5,277.0 L694.8,278.4 L702.6,275.5 L710.4,284.8 L708.9,318.8 M710.4,284.8 L715.6,276.7 M701.1,271.3 L702.6,275.5 M694.8,278.4 L694.0,284.0" fill="none" stroke="#111" stroke-width="1.800" stroke-linejoin="round"/>
<path d="M705.1,287.2 C706.1,295.4 706.1,306.7 704.7,315.2" fill="none" stroke="#111" stroke-width="1"/>
<!-- bushing & lever -->
<path d="M681.3,301.3 C682.7,298.2 686.2,297.1 689.1,297.5 L694.8,292.6 C699.0,292.6 702.6,298.2 702.6,304.6 C702.6,308.2 701.1,311.0 699.0,312.1 L690.5,310.3 C686.2,312.4 681.3,308.2 681.3,301.3 Z" fill="#fff" stroke="#111" stroke-width="2.200" stroke-linejoin="round"/>
<path d="M689.1,297.5 C693.3,299.6 694.8,306.0 690.5,310.3 M692.3,295.1 C696.6,297.5 698.0,305.3 694.8,311.3 M695.5,292.8 C699.7,296.1 701.1,304.6 698.0,311.8" stroke="#111" stroke-width="1.600" fill="none"/>
<path d="M694.8,301.8 L696.9,305.3 L698.3,301.8" stroke="#111" stroke-width="1" fill="none"/>
<path d="M669.2,311.3 L686.2,303.9 C688.4,304.6 689.5,306.7 688.4,308.4 L672.1,317.4 C668.5,318.1 667.1,313.8 669.2,311.3 Z" fill="#fff" stroke="#111" stroke-width="2" stroke-linejoin="round"/>
<!-- sleeve -->
<path class="w" d="M759.300,315 L770.200,315 L770.200,355.500 L765,357 L759.300,355.500 Z"/>
<path class="l" d="M758.300,314.800 C761,317 766,317 768.300,314.800"/>
<path class="w" d="M759.300,362 L764,360.500 L770.200,362 L770.200,396 L759.300,396 Z"/>
<!-- connectors -->
<path class="w" d="M752.300,398.500 L759,395 L774.700,396 L774.700,414.700 L767.200,419 L752.300,416 Z" stroke-width="1.600"/>
<path class="l" d="M752.300,398.500 L767.200,401.500 L774.700,396 M767.200,401.500 V419" stroke-width="1.600"/>
<path class="t" d="M757,398 l2,0.800 l2,-0.800 M763,398.500 l2,0.800 l2,-0.800"/>
<path class="w" d="M749.800,416 L752.300,415 L767.200,419 L774.700,414.700 L778.500,417.100 L778.500,438.300 L769.700,443.300 L749.800,435.800 Z" stroke-width="1.600"/>
<path class="l" d="M749.800,416 L769.700,422.500 L778.500,417.100 M769.700,422.500 V443.300" stroke-width="1.600"/>


</g>
<!-- LABELS -->
<g id="labels" filter="url(#soft)">
<path d="M417.300,269.100 L440,269.100 Q443.800,269.100 443.600,273 L442.200,290.500 Q441.900,294 438.500,294 L419.500,294 Q416,294 415.600,290.500 L413.500,273 Q413.200,269.100 417.300,269.100 Z" fill="#ef9e9a"/>
<g transform="translate(419.7,288.9)"><text x="0.00" y="0" style="fill:#8e2c2a;stroke:#8e2c2a">2</text><path d="M7.08,0 H5.41 V-10.64 C5.01,-10.26 4.48,-9.88 3.83,-9.5 C3.18,-9.12 2.6,-8.83 2.08,-8.65 V-10.26 C3,-10.7 3.82,-11.23 4.52,-11.85 C5.21,-12.47 5.71,-13.07 5.99,-13.66 H7.08 Z" transform="translate(10.57,0)" fill="#8e2c2a" stroke="#8e2c2a" stroke-width="0.3"/></g>
<text x="277" y="75">25</text>
<text x="119.300" y="153.300">26</text>
<g transform="translate(553.4,33.3)"><path d="M7.08,0 H5.41 V-10.64 C5.01,-10.26 4.48,-9.88 3.83,-9.5 C3.18,-9.12 2.6,-8.83 2.08,-8.65 V-10.26 C3,-10.7 3.82,-11.23 4.52,-11.85 C5.21,-12.47 5.71,-13.07 5.99,-13.66 H7.08 Z" transform="translate(0.00,0)" fill="#1c1c1c" stroke="#1c1c1c" stroke-width="0.3"/><text x="10.57" y="0">6</text></g>
<g transform="translate(241.0,222.0)"><path d="M7.08,0 H5.41 V-10.64 C5.01,-10.26 4.48,-9.88 3.83,-9.5 C3.18,-9.12 2.6,-8.83 2.08,-8.65 V-10.26 C3,-10.7 3.82,-11.23 4.52,-11.85 C5.21,-12.47 5.71,-13.07 5.99,-13.66 H7.08 Z" transform="translate(0.00,0)" fill="#1c1c1c" stroke="#1c1c1c" stroke-width="0.3"/><text x="10.57" y="0">9</text></g>
<text x="472" y="251.800">20</text>
<text x="391.300" y="310">22</text>
<text x="358.300" y="329.200">23</text>
<text x="609.600" y="279.800">24</text>
<g transform="translate(718.3,69.5)"><path d="M7.08,0 H5.41 V-10.64 C5.01,-10.26 4.48,-9.88 3.83,-9.5 C3.18,-9.12 2.6,-8.83 2.08,-8.65 V-10.26 C3,-10.7 3.82,-11.23 4.52,-11.85 C5.21,-12.47 5.71,-13.07 5.99,-13.66 H7.08 Z" transform="translate(0.00,0)" fill="#1c1c1c" stroke="#1c1c1c" stroke-width="0.3"/><text x="10.57" y="0">7</text></g>
</g>

<!-- ARROW -->
<g id="arrow" filter="url(#soft)">
<path d="M480,320 L488.600,380 L497.600,441.500" fill="none" stroke="#e81c2a" stroke-width="4.400" stroke-linecap="round"/>
<path d="M462.600,420.200 L497.800,442.300 L518.300,414" fill="none" stroke="#e81c2a" stroke-width="4.400" stroke-linecap="round" stroke-linejoin="round"/>
</g>

<!-- NUTPHOTO -->
<defs>
<linearGradient id="gBase" x1="0" y1="0" x2="1" y2="1">
<stop offset="0" stop-color="#b9b9b7"/><stop offset="0.5" stop-color="#adadab"/><stop offset="1" stop-color="#b4b4b2"/>
</linearGradient>
<radialGradient id="gDome" cx="0.45" cy="0.35" r="0.75">
<stop offset="0" stop-color="#a9a9a7"/><stop offset="0.6" stop-color="#9d9d9b"/><stop offset="1" stop-color="#8b8b89"/>
</radialGradient>
<radialGradient id="gHole" cx="0.55" cy="0.6" r="0.7">
<stop offset="0" stop-color="#8a8a88"/><stop offset="0.7" stop-color="#6f6f6d"/><stop offset="1" stop-color="#5e5e5c"/>
</radialGradient>
<filter id="nb" x="-10%" y="-10%" width="120%" height="120%"><feGaussianBlur stdDeviation="0.7"/></filter>
<filter id="nb2" x="-20%" y="-20%" width="140%" height="140%"><feGaussianBlur stdDeviation="1.2"/></filter>
</defs>
<g id="nut" filter="url(#nb)">
<!-- hex base -->
<path d="M484.300,455 L497,448.500 L539.300,452 L547.600,460.200 L554,471 L544.500,503.800 L502,516.500 L475,489.500 Z" fill="url(#gBase)"/>
<!-- underside facets -->
<path d="M475,489.500 L476.500,494.500 L503,517.500 L545,504.500 L544.500,500 L504,510 Z" fill="#8c8c8a"/>
<path d="M475,489.500 L476.500,494.500 L503,517.500 L504,510 Z" fill="#7a7a78"/>
<!-- left facet lighter -->
<path d="M484.300,455 L494,451 L484,484 L475,489.500 Z" fill="#c0c0be"/>
<path d="M546,462 L554,471 L544.500,503.800 L538,500 Z" fill="#a7a7a5"/>
<!-- groove shadow -->
<path d="M492,482 C494,492 506,500 520,499.500 C533,499 543,493 547,486 L547,478 C541,488 531,493 520,493 C508,493 498,487 494,478 Z" fill="#7f7f7d" filter="url(#nb2)"/>
<!-- dome -->
<ellipse cx="521" cy="468.500" rx="28" ry="25" fill="url(#gDome)"/>
<path d="M493.500,474 C497,488 509,494.500 522,494.500 C535,494.500 545,487 548.500,474 C544,484 534,489 522,489 C510,489 499,484 493.500,474 Z" fill="#878785"/>
<path d="M494,483 C496,490 502,495.500 509,498" fill="none" stroke="#c9c9c7" stroke-width="1.600" stroke-linecap="round"/>
<!-- rim highlight -->
<ellipse cx="521.500" cy="460.500" rx="18" ry="15.500" fill="#a5a5a3"/>
<!-- hole -->
<ellipse cx="521.700" cy="460.500" rx="14.400" ry="12.400" fill="url(#gHole)"/>
<path d="M509,457 C514,461 528,462 534,458 M508.500,460.500 C514,465 528,466 534.500,462 M509.500,464 C515,468.500 527,469.500 533.500,465.500 M511.500,467.500 C516,471 526,471.500 531,469 M510,453.500 C515,457 527,458 533,454.500" stroke="#5a5a58" stroke-width="0.900" fill="none" opacity="0.750"/>
<path d="M507.500,458 C508,451 514,448.500 521,448.500 C528,448.500 534,451 535.500,457" stroke="#5c5c5a" stroke-width="1.800" fill="none" opacity="0.700"/>
</g>

</svg>
</body>
</html>
